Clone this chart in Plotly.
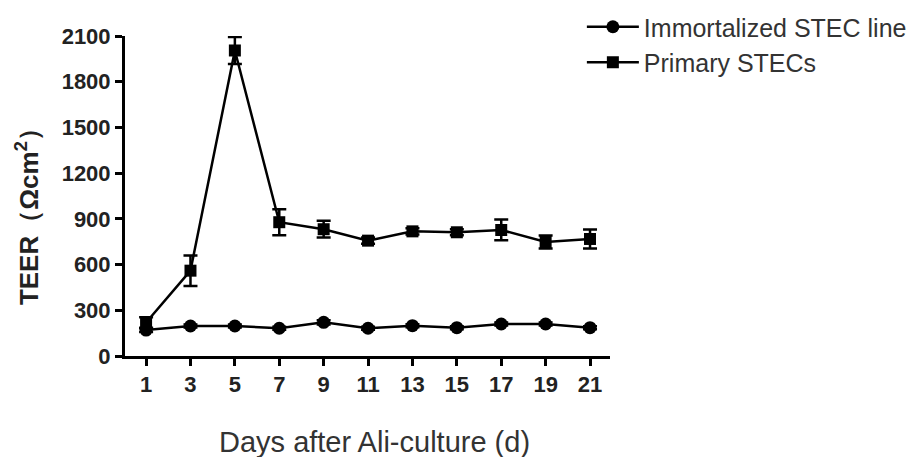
import plotly.graph_objects as go

days = [1, 3, 5, 7, 9, 11, 13, 15, 17, 19, 21]
immortalized = [170, 197, 197, 182, 221, 182, 199, 186, 210, 210, 186]
immortalized_err = [12, 10, 10, 10, 14, 10, 10, 10, 10, 10, 10]
primary = [220, 560, 2005, 878, 832, 757, 818, 812, 827, 748, 768]
primary_err = [35, 100, 88, 85, 55, 20, 20, 20, 68, 42, 62]

y_ticks = [0, 300, 600, 900, 1200, 1500, 1800, 2100]
x_ticks = days

fig = go.Figure()
fig.add_trace(go.Scatter(
    x=days, y=immortalized, name="Immortalized STEC line",
    mode="lines+markers",
    line=dict(color="black", width=2.5),
    marker=dict(symbol="circle", size=13, color="black"),
    error_y=dict(type="data", array=immortalized_err, color="black", thickness=2.5, width=7),
))
fig.add_trace(go.Scatter(
    x=days, y=primary, name="Primary STECs",
    mode="lines+markers",
    line=dict(color="black", width=2.5),
    marker=dict(symbol="square", size=12, color="black"),
    error_y=dict(type="data", array=primary_err, color="black", thickness=2.5, width=7),
))

fig.update_layout(
    width=920, height=457,
    margin=dict(l=125, r=310, t=36, b=101, autoexpand=False),
    paper_bgcolor="white", plot_bgcolor="white",
    font=dict(family="Liberation Sans, Arial, sans-serif", color="#222"),
    showlegend=True,
    legend=dict(
        x=0.942, y=1.1, xanchor="left", yanchor="top",
        font=dict(size=25, color="#333"),
        bgcolor="rgba(0,0,0,0)", itemwidth=52,
    ),
    xaxis=dict(
        range=[0.05, 21.9], tickvals=x_ticks, ticktext=[str(v) for v in x_ticks],
        showline=True, linecolor="black", linewidth=3,
        ticks="outside", ticklen=7, tickwidth=2.5, tickcolor="black",
        showgrid=False, zeroline=False, automargin=False,
        tickfont=dict(size=22, color="#222", family="Liberation Sans, Arial", weight="bold"),
    ),
    yaxis=dict(
        range=[0, 2100], tickvals=y_ticks,
        showline=True, linecolor="black", linewidth=3,
        ticks="outside", ticklen=7, tickwidth=2.5, tickcolor="black",
        showgrid=False, zeroline=False, automargin=False,
        tickfont=dict(size=22, color="#222", family="Liberation Sans, Arial", weight="bold"),
    ),
    annotations=[
        dict(text="Days after Ali-culture (d)", xref="paper", yref="paper",
             x=0.515, y=-0.269, xanchor="center", yanchor="middle", showarrow=False,
             font=dict(size=29, color="#333")),
        dict(text="<b>TEER（Ωcm<sup>2</sup>）</b>", xref="paper", yref="paper",
             x=-0.202, y=0.456, xanchor="center", yanchor="middle", showarrow=False,
             textangle=-90, font=dict(size=26, color="#222")),
    ],
)

fig.write_html("out.html")
